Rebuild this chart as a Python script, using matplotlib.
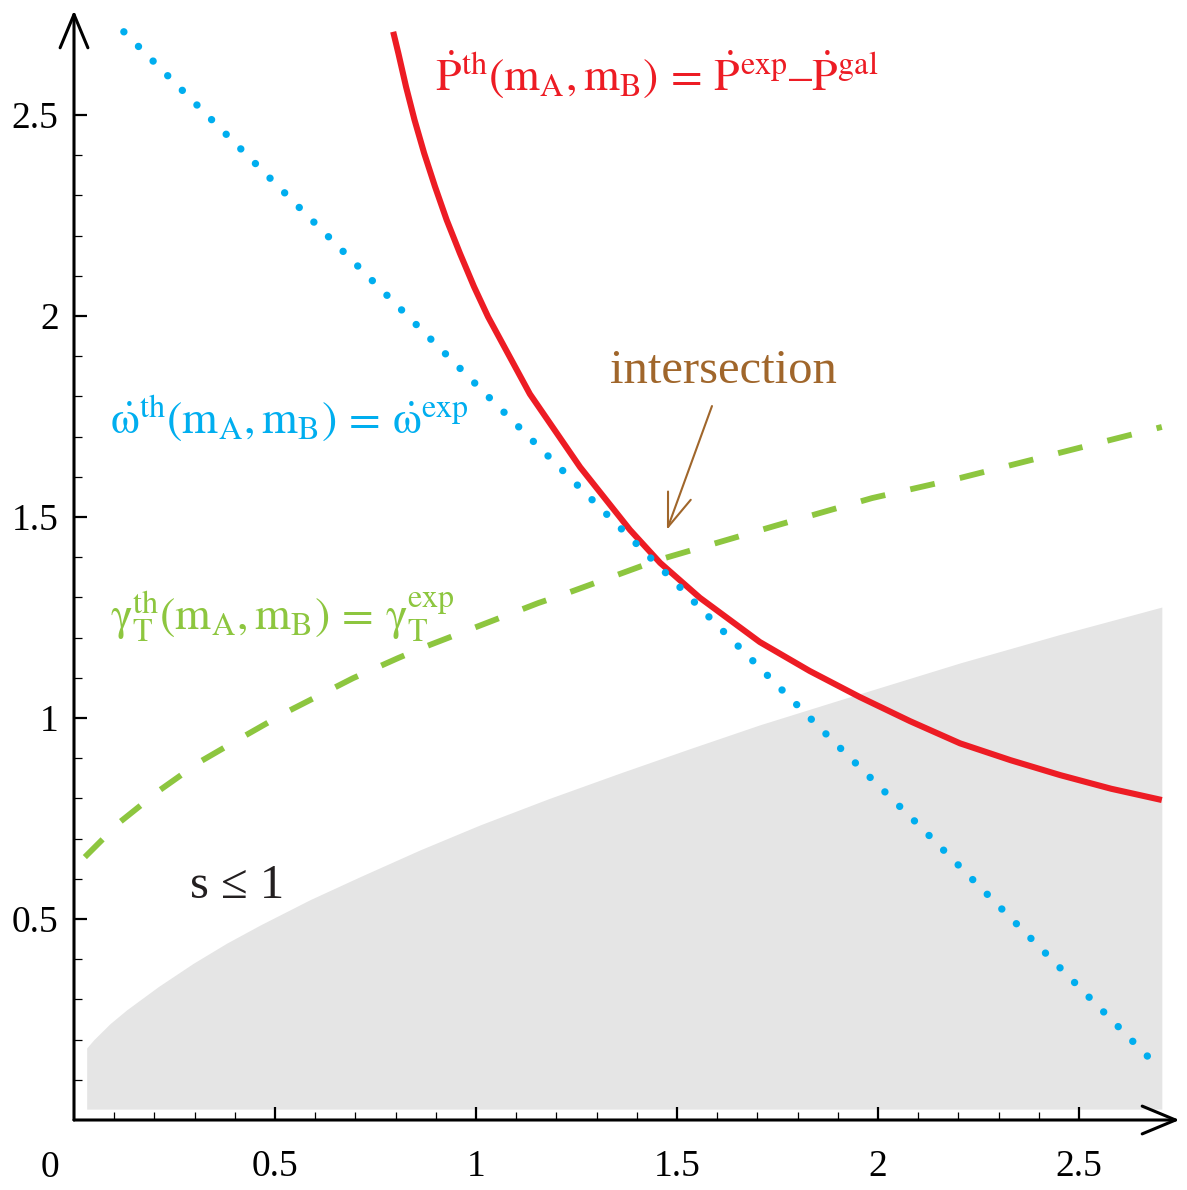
import matplotlib
matplotlib.use("Agg")
import matplotlib.pyplot as plt

plt.rcParams['font.family'] = ['Liberation Serif', 'DejaVu Serif']
plt.rcParams['mathtext.fontset'] = 'stix'

# values
red_x = [0.794, 0.807, 0.826, 0.847, 0.871, 0.898, 0.927, 0.960, 0.995, 1.030,
         1.134, 1.259, 1.383, 1.458, 1.557, 1.706, 1.830, 1.955, 2.080, 2.204,
         2.330, 2.453, 2.580, 2.706]
red_y = [2.707, 2.653, 2.570, 2.488, 2.405, 2.322, 2.239, 2.156, 2.073, 1.998,
         1.806, 1.624, 1.468, 1.386, 1.299, 1.189, 1.117, 1.052, 0.992, 0.937,
         0.895, 0.858, 0.824, 0.796]

blue_x = [0.124, 0.805, 1.022, 1.495, 1.565, 1.888, 2.104, 2.680]
blue_y = [2.707, 2.025, 1.808, 1.338, 1.266, 0.943, 0.731, 0.149]

green_x = [0.027, 0.114, 0.214, 0.313, 0.420, 0.529, 0.694, 0.806, 0.865, 1.155,
           1.214, 1.453, 1.744, 1.985, 2.204, 2.706]
green_y = [0.654, 0.741, 0.821, 0.891, 0.953, 1.015, 1.099, 1.149, 1.174, 1.286,
           1.306, 1.393, 1.478, 1.547, 1.597, 1.724]

gray_x = [0.0315, 0.0485, 0.090, 0.131, 0.210, 0.297, 0.380, 0.463, 0.587, 0.711,
          0.861, 1.010, 1.180, 1.358, 1.530, 1.706, 1.905, 2.204, 2.450, 2.706]
gray_top = [0.179, 0.199, 0.240, 0.274, 0.332, 0.390, 0.440, 0.485, 0.548, 0.605,
            0.672, 0.734, 0.799, 0.863, 0.923, 0.983, 1.045, 1.137, 1.207, 1.276]
gray_bottom = 0.027

major_ticks = [0.5, 1, 1.5, 2, 2.5]
major_labels = ['0.5', '1', '1.5', '2', '2.5']
minor_ticks = [i / 10 for i in range(1, 26) if i % 5 != 0]

RED = '#ed1c24'
CYAN = '#00aeef'
GREEN = '#8dc63f'
BROWN = '#a0662b'
GRAY = '#e5e5e5'

W, H = 1187, 1190
fig = plt.figure(figsize=(W / 100, H / 100), dpi=100)
# y=0 at 70px from bottom, x=0 at 74px, 402px per unit
ax = fig.add_axes([74 / W, 70 / H, 2.75 * 402 / W, 2.76 * 402 / H])
ax.set_xlim(0, 2.75)
ax.set_ylim(0, 2.76)

ax.fill_between(gray_x, gray_bottom, gray_top, color=GRAY, lw=0, zorder=1)

ax.plot(blue_x, blue_y, color=CYAN, lw=5.3, linestyle=(0, (0.01, 2.8)),
        dash_capstyle='round', zorder=3)
ax.plot(green_x, green_y, color=GREEN, lw=4.2, linestyle=(0, (4.3, 4.4)),
        dash_capstyle='butt', zorder=3)
ax.plot(red_x, red_y, color=RED, lw=4.4, zorder=2, solid_capstyle='butt',
        solid_joinstyle='round')

for s in ax.spines.values():
    s.set_visible(False)

arrow_kw = dict(arrowstyle='->,head_length=2.4,head_width=1.0', mutation_scale=10,
                lw=2.2, color='black', shrinkA=0, shrinkB=0)
ax.annotate('', xy=(1, 0), xycoords='axes fraction', xytext=(0, 0),
            arrowprops=arrow_kw, annotation_clip=False)
ax.annotate('', xy=(0, 1), xycoords='axes fraction', xytext=(0, 0),
            arrowprops=arrow_kw, annotation_clip=False)

ax.set_xticks(major_ticks)
ax.set_xticklabels(major_labels)
ax.set_yticks(major_ticks)
ax.set_yticklabels(major_labels)
ax.set_xticks(minor_ticks, minor=True)
ax.set_yticks(minor_ticks, minor=True)
ax.tick_params(which='major', direction='in', length=9.6, width=1.6, labelsize=27)
ax.tick_params(which='minor', direction='in', length=5.8, width=0.9)
ax.tick_params(axis='x', which='major', pad=21)
ax.tick_params(axis='y', which='major', pad=11)
ax.text(-0.06, -0.12, '0', fontsize=27, ha='center', va='center')

fs = 35
fm = 33
ax.text(0.898, 2.562,
        r'$\dot{\mathrm{P}}^{\mathrm{th}}(\mathrm{m}_{\mathrm{A}},\mathrm{m}_{\mathrm{B}})'
        r'\,=\,\dot{\mathrm{P}}^{\mathrm{exp}}\mathrm{–}\dot{\mathrm{P}}^{\mathrm{gal}}$',
        color=RED, fontsize=fm, ha='left', va='baseline')
ax.text(0.09, 1.709,
        r'$\dot{\mathrm{\omega}}^{\mathrm{th}}(\mathrm{m}_{\mathrm{A}},\mathrm{m}_{\mathrm{B}})'
        r'\,=\,\dot{\mathrm{\omega}}^{\mathrm{exp}}$',
        color=CYAN, fontsize=fm, ha='left', va='baseline')
ax.text(0.09, 1.219,
        r'$\mathrm{\gamma}_{\mathrm{T}}^{\mathrm{th}}(\mathrm{m}_{\mathrm{A}},\mathrm{m}_{\mathrm{B}})'
        r'\,=\,\mathrm{\gamma}_{\mathrm{T}}^{\mathrm{exp}}$',
        color=GREEN, fontsize=fm, ha='left', va='baseline')
ax.text(1.333, 1.833, 'intersection', color=BROWN, fontsize=fs,
        ha='left', va='baseline')
ax.text(0.289, 0.552, 's ≤ 1', color='#231f20', fontsize=fs,
        ha='left', va='baseline')

ax.annotate('', xy=(1.475, 1.468), xytext=(1.587, 1.776),
            arrowprops=dict(arrowstyle='->,head_length=2.4,head_width=0.87',
                            mutation_scale=10, lw=1.5, color=BROWN,
                            shrinkA=0, shrinkB=0))

fig.savefig('out.png', dpi=100)
